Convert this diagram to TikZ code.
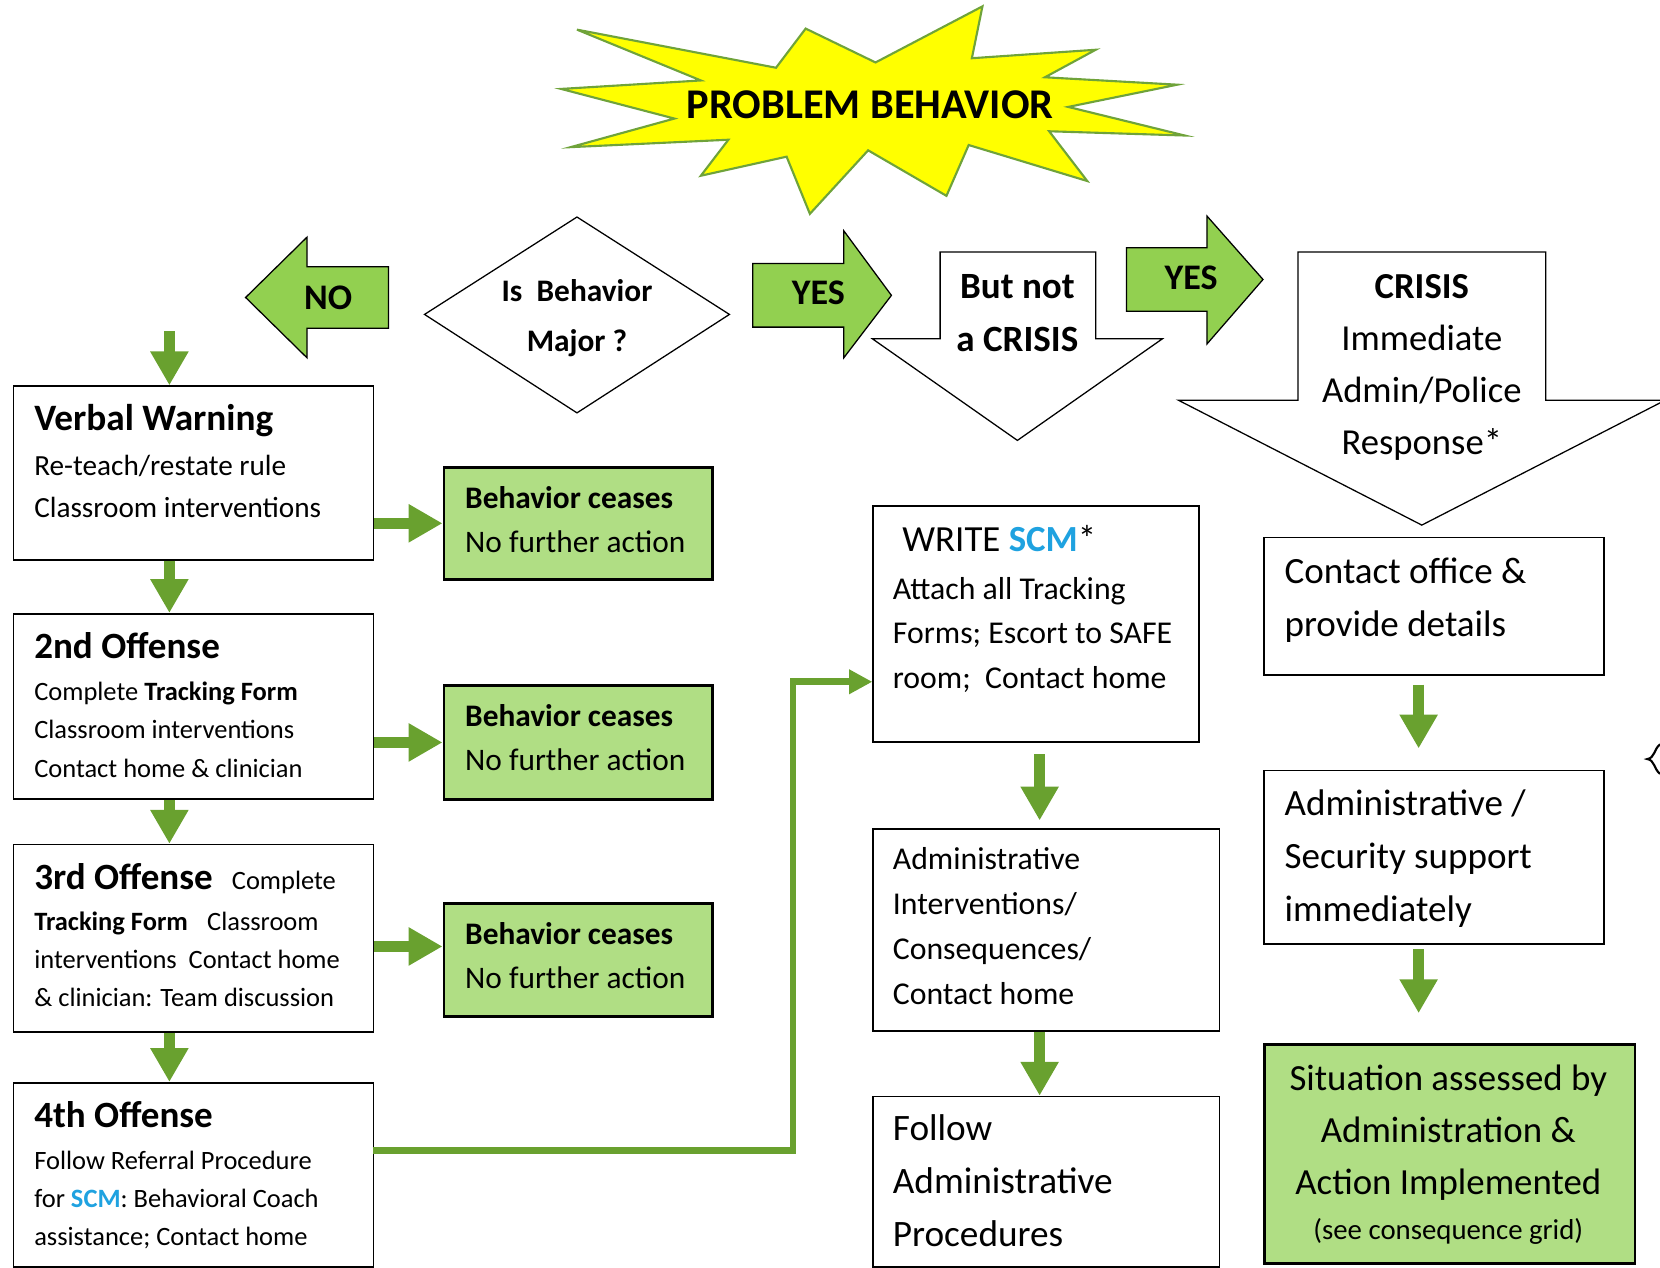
\documentclass[tikz,border=0pt]{standalone}
\usepackage{fontspec}
\setmainfont{Carlito}
\usetikzlibrary{arrows.meta,calc}
\definecolor{burst}{HTML}{FFFF00}
\definecolor{burstline}{HTML}{6FA33A}
\definecolor{yesno}{HTML}{92D050}
\definecolor{flowgreen}{HTML}{69A12F}
\definecolor{okgreen}{HTML}{B0DE84}
\definecolor{scmblue}{HTML}{1FA2E0}
\newcommand{\scmword}{\textcolor{scmblue}{\textbf{SCM}}}
\newcommand{\fsz}[2]{\fontsize{#1}{#2}\selectfont}
\tikzset{
  box/.style = {draw=black, line width=0.8pt, anchor=north west, inner sep=0pt},% plain step
  okbox/.style = {box, line width=1.3pt, fill=okgreen},% behavior ceases
  txt/.style = {inner sep=0pt, anchor=base west, align=left},% placed on its last line
  ctxt/.style = {inner sep=0pt, anchor=base, align=center},
  blockarrow/.style = {draw=black, line width=0.6pt, line join=miter},
  flow/.style = {draw=flowgreen, line width=5.3pt,
    -{Triangle[width=17pt,length=16pt]}},% thick green arrow
  link/.style = {draw=flowgreen, line width=3.2pt, line join=miter,
    -{Triangle[width=11pt,length=11pt]}}% 4th offense to SCM
}
\begin{document}
\begin{tikzpicture}[x=0.5pt, y=-0.5pt]
\useasboundingbox (0,0) rectangle (1568,1197);

% the star
\draw[burstline, fill=burst, line width=1pt, line join=miter]
  (545,28) -- (733,64) -- (761,27) -- (827,59) -- (928,6) -- (918,55)
  -- (1035,47) -- (987,73) -- (1112,80) -- (1009,101) -- (1119,128)
  -- (991,124) -- (1027,171) -- (915,137) -- (894,185) -- (820,142)
  -- (765,202) -- (743,148) -- (662,166) -- (688,132) -- (539,139)
  -- (637,112) -- (530,84) -- (662,76) -- cycle;
\node[ctxt, font=\fsz{20}{24}\bfseries] (pb) at (822,112) {PROBLEM BEHAVIOR};

% question
\draw[blockarrow, fill=white] (545,205) -- (689,297) -- (545,390) -- (401,297) -- cycle;
\node[ctxt, font=\fsz{14.8}{23.5}\bfseries] (major) at (545,332) {Is\ \ Behavior\\Major ?};

% yes / no arrows
\draw[blockarrow, fill=yesno] (367,252) -- (290,252) -- (290,224) -- (232,281)
  -- (290,338) -- (290,310) -- (367,310) -- cycle;
\node[ctxt, font=\fsz{17}{20}\bfseries] (no) at (310,292) {NO};
\draw[blockarrow, fill=yesno] (711,249) -- (797,249) -- (797,218) -- (842,279)
  -- (797,338) -- (797,309) -- (711,309) -- cycle;
\node[ctxt, font=\fsz{17}{20}\bfseries] (yes) at (773,288) {YES};
\draw[blockarrow, fill=white] (888,238) -- (1035,238) -- (1035,320) -- (1098,320)
  -- (961,416) -- (824,320) -- (888,320) -- cycle;
\node[ctxt, font=\fsz{17.5}{25}\bfseries] (notcrisis) at (961,332) {But not\\a CRISIS};
\draw[blockarrow, fill=yesno] (1064,234) -- (1140,234) -- (1140,204) -- (1193,264)
  -- (1140,325) -- (1140,294) -- (1064,294) -- cycle;
\node[ctxt, font=\fsz{17}{20}\bfseries] (yescrisis) at (1125,273) {YES};
\draw[blockarrow, fill=white] (1226,238) -- (1460,238) -- (1460,378) -- (1573,378)
  -- (1343,496) -- (1113,378) -- (1226,378) -- cycle;
\node[ctxt, font=\fsz{17.3}{24.5}] (crisis) at (1343,429)
  {\textbf{CRISIS}\\Immediate\\Admin/Police\\Response*};

% minor column
\node[box, minimum width=170pt, minimum height=82pt] (vw) at (12,364) {};
\node[txt, font=\fsz{17.6}{21}\bfseries] (vwhead) at (32,407) {Verbal Warning};
\node[txt, font=\fsz{13.8}{20}] (vwtext) at (32,489) {Re-teach/restate rule\\Classroom interventions};

\node[box, minimum width=170pt, minimum height=87.5pt] (off2) at (12,579) {};
\node[txt, font=\fsz{17.5}{21}\bfseries] (off2head) at (32,622) {2nd Offense};
\node[txt, font=\fsz{12.5}{18}] (off2text) at (32,734)
  {Complete \textbf{Tracking Form}\\Classroom interventions\\Contact home \& clinician};

\node[box, minimum width=170pt, minimum height=88.5pt] (off3) at (12,797) {};
\node[txt, font=\fsz{12.5}{18}] (off3text) at (32,951)
  {{\fsz{17.5}{21}\bfseries 3rd Offense}\enspace\ Complete\\[1.5pt]
   \textbf{Tracking Form}\enspace\ Classroom\\interventions\ \ Contact home\\
   \& clinician: Team discussion};

\node[box, minimum width=170pt, minimum height=87pt] (off4) at (12,1022) {};
\node[txt, font=\fsz{17.5}{21}\bfseries] (off4head) at (32,1065) {4th Offense};
\node[txt, font=\fsz{12.5}{17.75}] (off4text) at (32,1176)
  {Follow Referral Procedure\\for \scmword: Behavioral Coach\\assistance; Contact home};

\node[okbox, minimum width=127pt, minimum height=53pt] (ok1) at (418,440) {};
\node[txt, font=\fsz{14.8}{21}] (ok1text) at (439,522) {\textbf{Behavior ceases}\\No further action};
\node[okbox, minimum width=127pt, minimum height=54pt] (ok2) at (418,646) {};
\node[txt, font=\fsz{14.8}{21}] (ok2text) at (439,728) {\textbf{Behavior ceases}\\No further action};
\node[okbox, minimum width=127pt, minimum height=53.5pt] (ok3) at (418,852) {};
\node[txt, font=\fsz{14.8}{21}] (ok3text) at (439,934) {\textbf{Behavior ceases}\\No further action};

% major column
\node[box, minimum width=154pt, minimum height=111.5pt] (write) at (824,477) {};
\node[txt, font=\fsz{17.4}{21}] (writehead) at (852,521) {WRITE \scmword*};
\node[txt, font=\fsz{15}{21}] (writetext) at (843,650)
  {Attach all Tracking\\Forms; Escort to SAFE\\room;\ \ Contact home};
\node[box, minimum width=163.5pt, minimum height=95.5pt] (admin) at (824,782) {};
\node[txt, font=\fsz{15}{21.25}] (admintext) at (843,949)
  {Administrative\\Interventions/\\Consequences/\\Contact home};
\node[box, minimum width=163.5pt, minimum height=80.5pt] (follow) at (824,1035) {};
\node[txt, font=\fsz{17.6}{25}] (followtext) at (843,1177) {Follow\\Administrative\\Procedures};

% crisis column
\node[box, minimum width=160.5pt, minimum height=65pt] (contact) at (1193,507) {};
\node[txt, font=\fsz{17.5}{25}] (contacttext) at (1213,601) {Contact office \&\\provide details};
\node[box, minimum width=160.5pt, minimum height=82pt] (security) at (1193,727) {};
\node[txt, font=\fsz{17.5}{25}] (securitytext) at (1213,870)
  {Administrative /\\Security support\\immediately};
\node[okbox, minimum width=175pt, minimum height=103.5pt] (assess) at (1193,985) {};
\node[ctxt, font=\fsz{17.4}{24.5}] (assesstext) at (1368,1171)
  {Situation assessed by\\Administration \&\\Action Implemented\\[-3pt]
   {\fsz{13.6}{16}(see consequence grid)}};

% connectors
\coordinate (leftcol) at (160,313);
\coordinate (midcol) at (982,0);
\coordinate (rightcol) at (1340,0);
\draw[flow] (leftcol) -- (leftcol |- vw.north);
\draw[flow] (leftcol |- vw.south) -- (leftcol |- off2.north);
\draw[flow] (leftcol |- off2.south) -- (leftcol |- off3.north);
\draw[flow] (leftcol |- off3.south) -- (leftcol |- off4.north);
\draw[flow] (vw.east |- ok1.west) -- (ok1.west);
\draw[flow] (off2.east |- ok2.west) -- (ok2.west);
\coordinate (ok3in) at (418,894);
\draw[flow] (off3.east |- ok3in) -- (ok3in);
\coordinate (out4) at (352,1087);
\coordinate (bend) at (749,644);
\draw[link] (out4) -| (bend) -- (write.west |- bend);
\draw[flow, shorten <=5.5pt, shorten >=3.5pt] (midcol |- write.south) -- (midcol |- admin.north);
\draw[flow] (midcol |- admin.south) -- (midcol |- follow.north);
\draw[flow, shorten <=4pt, shorten >=10pt] (rightcol |- contact.south) -- (rightcol |- security.north);
\draw[flow, shorten <=2pt, shorten >=14pt] (rightcol |- security.south) -- (rightcol |- assess.north);

% brace cut off at the edge
\draw[line width=1pt] (1568,703) .. controls (1562,708) and (1563,716) .. (1556,717)
  .. controls (1563,718) and (1562,726) .. (1568,731);
\end{tikzpicture}
\end{document}
